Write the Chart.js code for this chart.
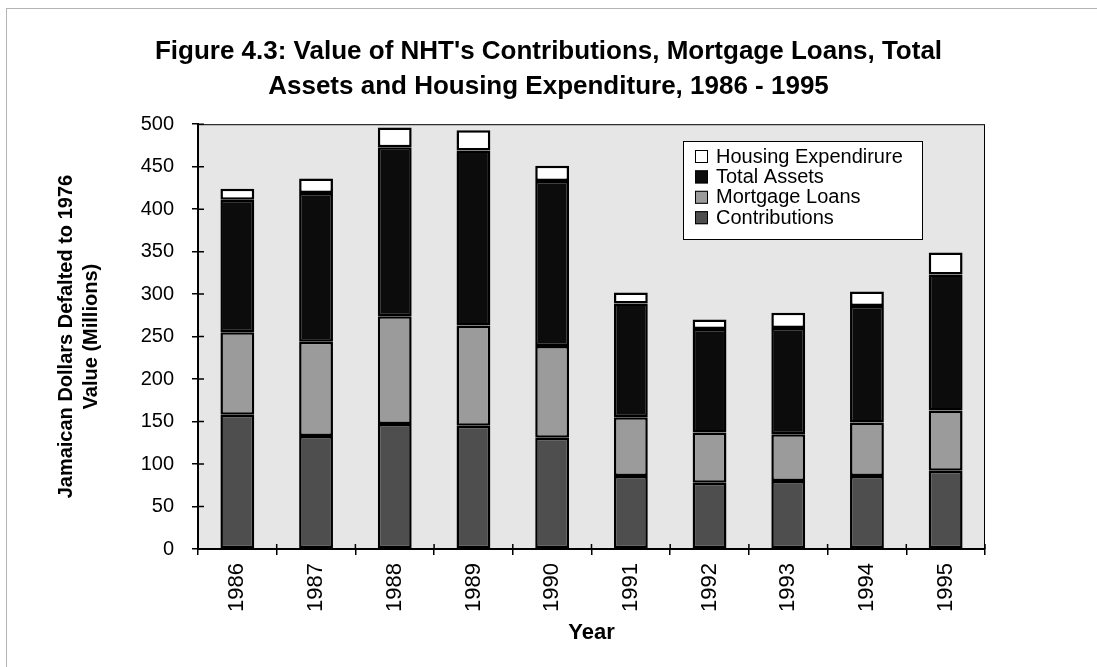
<!DOCTYPE html>
<html>
<head>
<meta charset="utf-8">
<script src="https://cdn.jsdelivr.net/npm/chart.js@4/dist/chart.umd.min.js"></script>
<style>
    html, body { margin: 0; padding: 0; background: #fff; overflow: hidden; }
    #frame { position: absolute; left: 6px; top: 8px; width: 2000px; height: 2000px; border: 1px solid #b4b4b4; }
    #wrap { position: absolute; left: 0; top: 0; width: 1097px; height: 667px; }
</style>
</head>
<body>
<div id="frame"></div>
<div id="wrap"><canvas id="bar-chart"></canvas></div>
<script>
    // values (1976 J$ millions)
    const years = ['1986', '1987', '1988', '1989', '1990', '1991', '1992', '1993', '1994', '1995'];
    const contributions = [158, 133, 147, 145, 131, 86, 78, 80, 86, 92];
    const mortgageLoans = [97, 111, 127, 118, 108, 69, 59, 55, 63, 71];
    const totalAssets = [156, 175, 199, 206, 194, 134, 122, 125, 137, 160];
    const housingExpenditure = [13, 17, 23, 24, 18, 13, 11, 18, 17, 26];

    const titleLines = ["Figure 4.3: Value of NHT's Contributions, Mortgage Loans, Total",
        'Assets and Housing Expenditure, 1986 - 1995'];
    const yTitle = ['Jamaican Dollars Defalted to 1976', 'Value (Millions)'];

    const FONT = "'Liberation Sans', Arial, Helvetica, sans-serif";

    // grey plot area + frame
    const plotBg = {
        id: 'plotBg',
        beforeDraw(chart) {
            const {ctx, chartArea: a} = chart;
            ctx.save();
            ctx.fillStyle = '#e6e6e6';
            ctx.fillRect(a.left, a.top, a.right - a.left, a.bottom - a.top);
            ctx.restore();
        },
        afterDatasetsDraw(chart) {
            const {ctx, chartArea: a} = chart;
            ctx.save();
            ctx.strokeStyle = '#000';
            ctx.lineWidth = 1;
            ctx.strokeRect(a.left + 0.5, a.top + 0.5, a.right - a.left - 1, a.bottom - a.top);
            // inner half of the tick marks
            const y = chart.scales.y, x = chart.scales.x;
            ctx.lineWidth = 1.5;
            ctx.beginPath();
            y.ticks.forEach((t, i) => {
                const py = y.getPixelForTick(i);
                ctx.moveTo(a.left, py);
                ctx.lineTo(a.left + 6, py);
            });
            for (let i = 0; i <= years.length; i++) {
                const px = x.getPixelForValue(i - 0.5);
                ctx.moveTo(px, a.bottom);
                ctx.lineTo(px, a.bottom - 5);
            }
            ctx.stroke();
            ctx.restore();
        }
    };

    // legend box inside the plot, reversed order
    const boxLegend = {
        id: 'boxLegend',
        afterDraw(chart) {
            const {ctx} = chart;
            const sets = chart.data.datasets.slice().reverse();
            const left = 683, top = 141, w = 239, h = 98;
            ctx.save();
            ctx.fillStyle = '#fff';
            ctx.fillRect(left, top, w, h);
            ctx.strokeStyle = '#000';
            ctx.lineWidth = 1;
            ctx.strokeRect(left + 0.5, top + 0.5, w, h);
            ctx.font = '20px ' + FONT;
            ctx.textBaseline = 'middle';
            sets.forEach((ds, i) => {
                const cy = top + 15 + i * 20.4;
                ctx.fillStyle = ds.backgroundColor;
                ctx.fillRect(left + 12, cy - 6, 13, 13);
                ctx.strokeRect(left + 12.5, cy - 5.5, 12, 12);
                ctx.fillStyle = '#000';
                ctx.fillText(ds.label, left + 33, cy + 1);
            });
            ctx.restore();
        }
    };

    const barChartData = {
        labels: years,
        datasets: [
            {label: 'Contributions', data: contributions, backgroundColor: '#4e4e4e'},
            {label: 'Mortgage Loans', data: mortgageLoans, backgroundColor: '#9b9b9b'},
            {label: 'Total Assets', data: totalAssets, backgroundColor: '#0c0c0c'},
            {label: 'Housing Expendirure', data: housingExpenditure, backgroundColor: '#ffffff'}
        ]
    };

    const barChartConfig = {
        type: 'bar',
        data: barChartData,
        options: {
            responsive: false,
            animation: false,
            datasets: {
                bar: {
                    borderColor: '#000',
                    borderWidth: 2.5,
                    borderSkipped: false,
                    categoryPercentage: 1,
                    barPercentage: 0.43
                }
            },
            layout: {padding: 0},
            plugins: {
                legend: {display: false},
                tooltip: {enabled: false},
                title: {
                    display: true,
                    text: titleLines,
                    color: '#000',
                    font: {family: FONT, size: 26, weight: 'bold', lineHeight: 1.35},
                    padding: {top: 34, bottom: 20}
                }
            },
            scales: {
                x: {
                    stacked: true,
                    grid: {display: true, drawOnChartArea: false, offset: true, tickLength: 6, color: '#000', lineWidth: 1.5},
                    border: {display: true, color: '#000', width: 2},
                    ticks: {
                        color: '#000',
                        font: {family: FONT, size: 22},
                        minRotation: 90,
                        maxRotation: 90,
                        autoSkip: false,
                        padding: 8
                    },
                    title: {
                        display: true,
                        text: 'Year',
                        color: '#000',
                        font: {family: FONT, size: 22, weight: 'bold', lineHeight: 1.2},
                        padding: {top: 0, bottom: 21}
                    },
                    afterFit(scale) {
                        scale.height = 118;
                    }
                },
                y: {
                    stacked: true,
                    min: 0,
                    max: 500,
                    grid: {display: true, drawOnChartArea: false, tickLength: 6, color: '#000', lineWidth: 1.5},
                    border: {display: true, color: '#000', width: 2},
                    ticks: {
                        stepSize: 50,
                        color: '#000',
                        font: {family: FONT, size: 20},
                        padding: 18
                    },
                    title: {
                        display: true,
                        text: yTitle,
                        color: '#000',
                        font: {family: FONT, size: 20, weight: 'bold', lineHeight: 1.25},
                        padding: {top: 54, bottom: 0}
                    },
                    afterFit(scale) {
                        scale.width = 198;
                    }
                },
                // empty right-hand gutter so the title stays centred on the page
                gutter: {
                    type: 'linear',
                    position: 'right',
                    display: true,
                    grid: {display: false, drawTicks: false},
                    border: {display: false},
                    ticks: {display: false},
                    afterFit(scale) {
                        scale.width = 112;
                    }
                }
            }
        },
        plugins: [plotBg, boxLegend]
    };

    const canvas = document.getElementById('bar-chart');
    canvas.width = 1097;
    canvas.height = 667;
    new Chart(canvas.getContext('2d'), barChartConfig);
</script>
</body>
</html>
